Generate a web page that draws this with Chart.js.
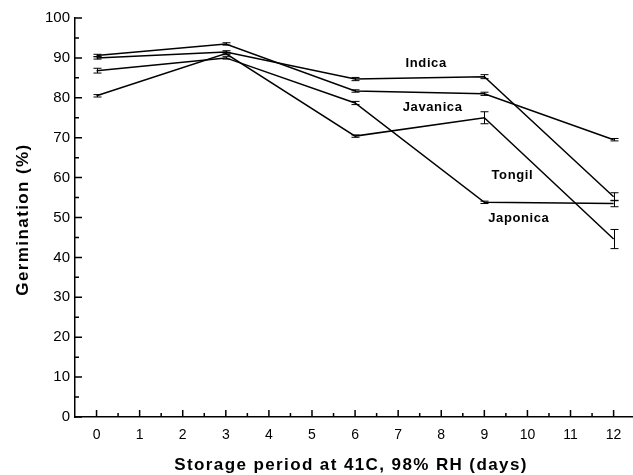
<!DOCTYPE html>
<html lang="en">
<head>
<meta charset="UTF-8">
<title>Germination after storage at 41C, 98% RH</title>
<script src="https://cdn.jsdelivr.net/npm/chart.js"></script>
<style>
  html, body { margin: 0; padding: 0; background: #fff; overflow: hidden; }
  #wrap { width: 633px; height: 475px; }
</style>
</head>
<body>
<div id="wrap"><canvas id="chart"></canvas></div>
<script>
// Data
const days = [0, 3, 6, 9, 12];

const indica   = [90.0, 91.5, 84.7, 85.3, 55.2];
const javanica = [90.6, 93.5, 81.7, 81.0, 69.5];
const tongil   = [80.5, 91.1, 70.4, 75.0, 44.6];
const japonica = [86.8, 90.0, 78.7, 53.8, 53.5];

// error bars (+/-)
const indicaErr   = [0.3, 0.3, 0.4, 0.5, 1.0];
const javanicaErr = [0.3, 0.3, 0.3, 0.4, 0.3];
const tongilErr   = [0.3, 0.3, 0.3, 1.5, 2.4];
const japonicaErr = [0.6, 0.3, 0.4, 0.3, 0.8];

const xTicks = [0, 1, 2, 3, 4, 5, 6, 7, 8, 9, 10, 11, 12];
const xMinorTicks = [0.5, 1.5, 2.5, 3.5, 4.5, 5.5, 6.5, 7.5, 8.5, 9.5, 10.5, 11.5];
const yTicks = [0, 10, 20, 30, 40, 50, 60, 70, 80, 90, 100];
const yMinorTicks = [5, 15, 25, 35, 45, 55, 65, 75, 85, 95];

// series names written next to the lines (in data units)
const seriesNames = ['Indica', 'Javanica', 'Tongil', 'Japonica'];
const nameX = [7.65, 7.8, 9.65, 9.8];
const nameY = [88.5, 77.7, 60.6, 49.8];

const xTitle = 'Storage period at 41C, 98% RH (days)';
const yTitle = 'Germination (%)';

const FONT = "'Liberation Sans', Arial, sans-serif";

function toPoints(values) {
  return values.map((v, i) => ({ x: days[i], y: v }));
}

function makeSet(label, values, err) {
  return {
    label: label,
    data: toPoints(values),
    err: err,
    borderColor: '#000',
    borderWidth: 1.5,
    pointRadius: 0,
    tension: 0,
    fill: false
  };
}

// inward tick marks, error bars, series names and spaced-out axis titles
const extras = {
  id: 'extras',
  afterDatasetsDraw(chart) {
    const { ctx, chartArea, scales: { x, y } } = chart;
    ctx.save();
    ctx.strokeStyle = '#000';
    ctx.lineWidth = 1;

    chart.data.datasets.forEach(ds => {
      ds.data.forEach((p, i) => {
        const e = ds.err[i];
        if (!e) return;
        const px = Math.round(x.getPixelForValue(p.x)) + 0.5;
        const top = y.getPixelForValue(p.y + e);
        const bot = y.getPixelForValue(p.y - e);
        ctx.beginPath();
        ctx.moveTo(px, top); ctx.lineTo(px, bot);
        ctx.moveTo(px - 4, top); ctx.lineTo(px + 4, top);
        ctx.moveTo(px - 4, bot); ctx.lineTo(px + 4, bot);
        ctx.stroke();
      });
    });

    ctx.lineWidth = 1.5;
    ctx.beginPath();
    xTicks.forEach(v => {
      const px = x.getPixelForValue(v);
      ctx.moveTo(px, chartArea.bottom); ctx.lineTo(px, chartArea.bottom - 7);
    });
    xMinorTicks.forEach(v => {
      const px = x.getPixelForValue(v);
      ctx.moveTo(px, chartArea.bottom); ctx.lineTo(px, chartArea.bottom - 4);
    });
    yTicks.forEach(v => {
      const py = y.getPixelForValue(v);
      ctx.moveTo(chartArea.left, py); ctx.lineTo(chartArea.left + 7, py);
    });
    yMinorTicks.forEach(v => {
      const py = y.getPixelForValue(v);
      ctx.moveTo(chartArea.left, py); ctx.lineTo(chartArea.left + 4, py);
    });
    ctx.stroke();

    ctx.fillStyle = '#000';
    ctx.textAlign = 'center';
    ctx.textBaseline = 'middle';
    ctx.letterSpacing = '0.6px';
    ctx.font = 'bold 13px ' + FONT;
    seriesNames.forEach((name, i) => {
      ctx.fillText(name, x.getPixelForValue(nameX[i]), y.getPixelForValue(nameY[i]));
    });

    ctx.letterSpacing = '1.4px';
    ctx.font = 'bold 17px ' + FONT;
    ctx.textBaseline = 'alphabetic';
    ctx.fillText(xTitle, (chartArea.left + chartArea.right) / 2 - 3, 470);

    ctx.textBaseline = 'middle';
    ctx.translate(23, (chartArea.top + chartArea.bottom) / 2 + 2);
    ctx.rotate(-Math.PI / 2);
    ctx.fillText(yTitle, 0, 0);
    ctx.restore();
  }
};

new Chart(document.getElementById('chart').getContext('2d'), {
  type: 'line',
  data: {
    datasets: [
      makeSet('Indica', indica, indicaErr),
      makeSet('Javanica', javanica, javanicaErr),
      makeSet('Tongil', tongil, tongilErr),
      makeSet('Japonica', japonica, japonicaErr)
    ]
  },
  options: {
    responsive: true,
    maintainAspectRatio: false,
    animation: false,
    layout: { padding: { top: 18, right: 0, left: 0, bottom: 0 } },
    plugins: {
      legend: { display: false },
      tooltip: { enabled: false }
    },
    scales: {
      x: {
        type: 'linear',
        min: -0.5,
        max: 12.45,
        afterFit: scale => { scale.height = 58; },
        afterBuildTicks: scale => { scale.ticks = xTicks.map(v => ({ value: v })); },
        grid: { display: false, drawTicks: false },
        border: { display: true, color: '#000', width: 1.5 },
        ticks: { color: '#000', padding: 10, maxRotation: 0, font: { family: FONT, size: 14 } },
        title: { display: false }
      },
      y: {
        min: 0,
        max: 100,
        afterFit: scale => { scale.width = 75; },
        afterBuildTicks: scale => { scale.ticks = yTicks.map(v => ({ value: v })); },
        grid: { display: false, drawTicks: false },
        border: { display: true, color: '#000', width: 1.5 },
        ticks: { color: '#000', padding: 5, font: { family: FONT, size: 15 } },
        title: { display: false }
      }
    }
  },
  plugins: [extras]
});
</script>
</body>
</html>
